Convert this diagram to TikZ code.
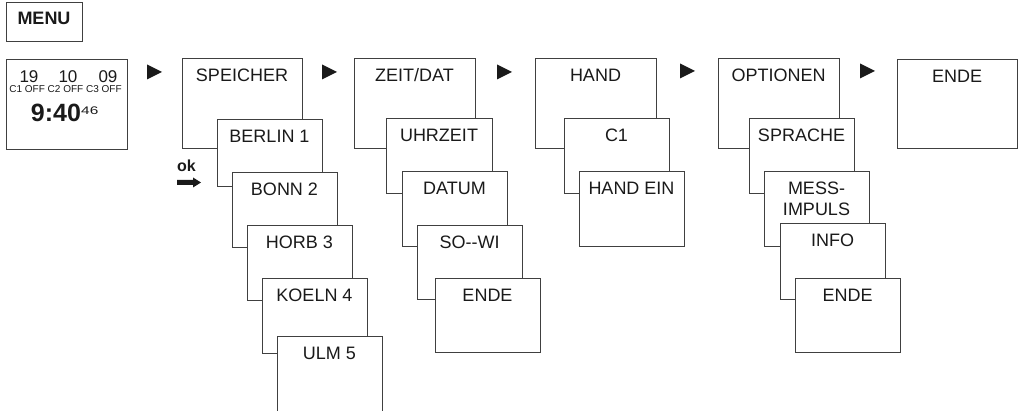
\documentclass[tikz,border=0pt]{standalone}
\usepackage{fontspec}
\usepackage{graphicx}
\setmainfont{Liberation Sans}
\definecolor{linec}{HTML}{404040}
\definecolor{txtc}{HTML}{1A1A1A}
\tikzset{
  boxst/.style={draw=linec, line width=1pt, fill=white, rectangle, inner sep=0pt, outer sep=0pt},
  lblst/.style={inner sep=0pt, text=txtc, font=\fontsize{18}{21}\selectfont, align=center},
  tri/.style={fill=txtc, draw=none},
}
\newcommand\mybox[6]{%
  \node[boxst, minimum width=#4pt, minimum height=#5pt, anchor=north west] (#1) at (#2,#3) {};
  \node[lblst, anchor=north] (#1t) at ([yshift=-9.5pt]#1.north) {#6};}
\newcommand\mytri[2]{%
  \fill[tri] (#1,#2-7.5) -- (#1+15,#2) -- (#1,#2+7.5) -- cycle;}
\begin{document}
\begin{tikzpicture}[x=1pt,y=-1pt]
\useasboundingbox (0,0) rectangle (1021,411);
\clip (0,0) rectangle (1021,411);
% MENU
\node[boxst, minimum width=76pt, minimum height=39pt, anchor=north west] (menu) at (6,3) {};
\node[inner sep=0pt, text=txtc, font=\fontsize{18}{21}\selectfont\bfseries] (menut) at (44,18.5) {MENU};
% clock display
\node[boxst, minimum width=121pt, minimum height=90pt, anchor=north west] (clock) at (6,60) {};
\node[inner sep=0pt, text=txtc, font=\fontsize{17}{20}\selectfont] (d1) at (29,76.5) {19};
\node[inner sep=0pt, text=txtc, font=\fontsize{17}{20}\selectfont] (d2) at (68,76.5) {10};
\node[inner sep=0pt, text=txtc, font=\fontsize{17}{20}\selectfont] (d3) at (108,76.5) {09};
\node[inner sep=0pt, text=txtc, font=\fontsize{10}{12}\selectfont] (coff) at (65.5,89.5) {C1 OFF C2 OFF C3 OFF};
\node[inner sep=0pt, text=txtc, font=\fontsize{25}{28}\selectfont\bfseries] (time) at (56,112.5) {9:40};
\node[inner sep=0pt, text=txtc, font=\fontsize{11}{12}\selectfont, anchor=north west] (sec) at (81,107) {\scalebox{1.4}[1]{46}};
% arrows between groups
\mytri{147}{72}
\mytri{322}{72}
\mytri{497}{72}
\mytri{680}{71}
\mytri{860}{71}
% ok arrow
\node[inner sep=0pt, text=txtc, font=\fontsize{16}{18}\selectfont\bfseries, anchor=base west] (ok) at (177,171.5) {ok};
\fill[txtc] (177,180) -- (193,180) -- (193,177.5) -- (201,182.5) -- (193,187.5) -- (193,185) -- (177,185) -- cycle;
% SPEICHER group
\mybox{speicher}{182}{59}{120}{90}{SPEICHER}
\mybox{berlin}{217}{120}{105}{67}{BERLIN 1}
\mybox{bonn}{232}{173}{105}{75}{BONN 2}
\mybox{horb}{247}{226}{105}{75}{HORB 3}
\mybox{koeln}{262}{279}{105}{75}{KOELN 4}
\mybox{ulm}{277}{337}{105}{80}{ULM 5}
% ZEIT/DAT group
\mybox{zeit}{354}{59}{121}{90}{ZEIT/DAT}
\mybox{uhr}{386}{119}{106}{75}{UHRZEIT}
\mybox{datum}{402}{172}{105}{75}{DATUM}
\mybox{sowi}{417}{226}{105}{74}{SO-{}-WI}
\mybox{endea}{435}{279}{105}{74}{ENDE}
% HAND group
\mybox{hand}{535}{59}{121}{90}{HAND}
\mybox{cone}{564}{119}{105}{75}{C1}
\mybox{handein}{579}{172}{105}{75}{HAND EIN}
% OPTIONEN group
\mybox{opt}{718}{59}{121}{90}{OPTIONEN}
\mybox{sprache}{749}{119}{105}{75}{SPRACHE}
\mybox{mess}{764}{172}{105}{75}{MESS-\\IMPULS}
\mybox{info}{780}{224}{105}{76}{INFO}
\mybox{endeb}{795}{279}{105}{74}{ENDE}
% ENDE
\mybox{endec}{897}{60}{120}{89}{ENDE}
\end{tikzpicture}
\end{document}
